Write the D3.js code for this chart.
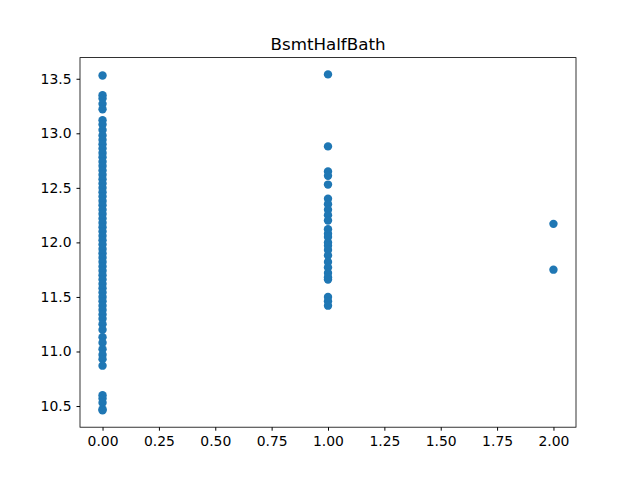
<!DOCTYPE html>
<html>
<head>
<meta charset="utf-8">
<script src="https://cdn.jsdelivr.net/npm/d3@7"></script>
<style>
  body { margin: 0; background: #fff; }
  text { font-family: "DejaVu Sans", sans-serif; }
</style>
</head>
<body>
<div id="chart"></div>
<script>
'use strict';

var title = 'BsmtHalfBath';
var xTicks = [0, 0.25, 0.5, 0.75, 1, 1.25, 1.5, 1.75, 2];
var yTicks = [10.5, 11.0, 11.5, 12.0, 12.5, 13.0, 13.5];

// log sale price values per BsmtHalfBath group
var group0 = [13.53, 13.35, 13.32, 13.27, 13.22, 13.12, 13.08, 13.03, 12.98, 12.94, 12.9, 12.86,
    12.82, 12.78, 12.74, 12.7, 12.66, 12.62, 12.58, 12.54, 12.5, 12.46, 12.42, 12.38, 12.34,
    12.3, 12.26, 12.22, 12.18, 12.14, 12.1, 12.06, 12.02, 11.98, 11.94, 11.9, 11.86, 11.82,
    11.78, 11.74, 11.7, 11.66, 11.62, 11.58, 11.54, 11.5, 11.46, 11.42, 11.38, 11.34, 11.3,
    11.25, 11.2, 11.13, 11.08, 11.02, 10.97, 10.93, 10.87, 10.6, 10.57, 10.53, 10.47, 10.46];
var group1 = [13.54, 12.88, 12.65, 12.61, 12.53, 12.4, 12.35, 12.3, 12.25, 12.2, 12.12, 12.08,
    12.05, 12.0, 11.97, 11.93, 11.88, 11.82, 11.77, 11.72, 11.68, 11.66, 11.5, 11.46, 11.42];
var group2 = [12.17, 11.75];

var width = 640, height = 480;
var margin = { top: 57.6, right: 64, bottom: 52.8, left: 80 };

var svg = d3.select('#chart').append('svg').attr('width', width).attr('height', height);

var x = d3.scaleLinear().domain([-0.1, 2.1]).range([margin.left, width - margin.right]);
var y = d3.scaleLinear().domain([10.306, 13.694]).range([height - margin.bottom, margin.top]);

var points = [];
[group0, group1, group2].forEach(function (g, i) {
    g.forEach(function (v) { points.push({ x: i, y: v }); });
});

svg.append('g').selectAll('circle').data(points).enter().append('circle')
    .attr('cx', function (d) { return x(d.x); })
    .attr('cy', function (d) { return y(d.y); })
    .attr('r', 4.2)
    .attr('fill', '#1f77b4');

var xAxis = svg.append('g')
    .attr('transform', 'translate(0,' + (height - margin.bottom) + ')')
    .call(d3.axisBottom(x).tickValues(xTicks).tickFormat(d3.format('.2f')).tickSizeOuter(0).tickSize(3.5).tickPadding(5));
var yAxis = svg.append('g')
    .attr('transform', 'translate(' + margin.left + ',0)')
    .call(d3.axisLeft(y).tickValues(yTicks).tickFormat(d3.format('.1f')).tickSizeOuter(0).tickSize(3.5).tickPadding(5));
[xAxis, yAxis].forEach(function (a) {
    a.selectAll('text').attr('font-size', 13.9).attr('fill', '#000').style('font-family', '"DejaVu Sans", sans-serif');
    a.select('.domain').remove();
});

svg.append('rect')
    .attr('x', margin.left).attr('y', margin.top)
    .attr('width', width - margin.left - margin.right)
    .attr('height', height - margin.top - margin.bottom)
    .attr('fill', 'none').attr('stroke', '#000').attr('stroke-width', 0.8);

svg.append('text')
    .attr('x', (margin.left + width - margin.right) / 2)
    .attr('y', margin.top - 8)
    .attr('text-anchor', 'middle')
    .attr('font-size', 16.7)
    .text(title);
</script>
</body>
</html>
